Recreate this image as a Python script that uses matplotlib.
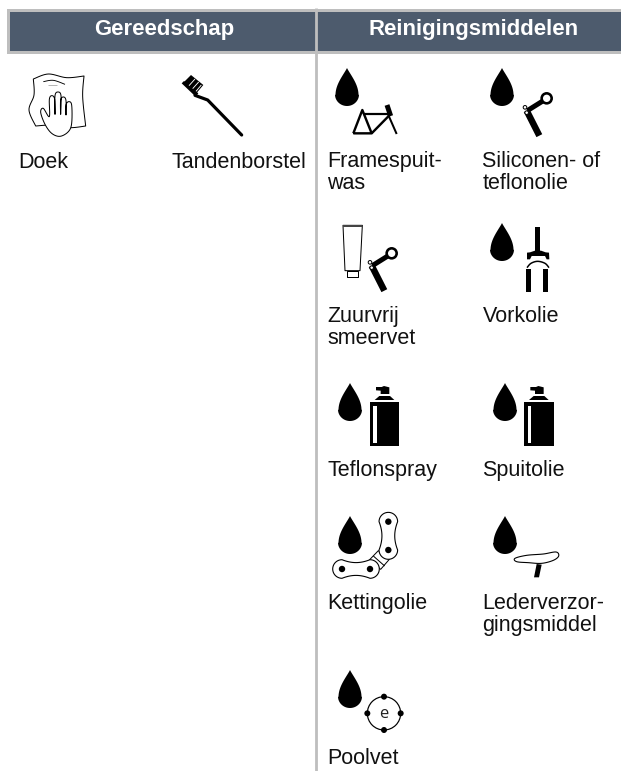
import numpy as np
import matplotlib
matplotlib.use("Agg")
import matplotlib.pyplot as plt
from matplotlib.patches import Polygon, Circle, Rectangle

headers = ["Gereedschap", "Reinigingsmiddelen"]
header_x = [164, 473.5]
labels = ["Doek", "Tandenborstel", "Framespuit-\nwas", "Siliconen- of\nteflonolie",
          "Zuurvrij\nsmeervet", "Vorkolie", "Teflonspray", "Spuitolie",
          "Kettingolie", "Lederverzor-\ngingsmiddel", "Poolvet"]
label_x = [18, 172, 327.5, 482.5, 327.5, 482.5, 327.5, 482.5, 327.5, 482.5, 327.5]
label_y = [168, 168, 167, 167, 322, 322, 476, 476, 609, 609, 764]

HEAD = "#4d5b6d"
RULE = "#bebebe"
plt.rcParams["font.family"] = ["Liberation Sans", "DejaVu Sans"]

fig = plt.figure(figsize=(6.21, 7.71), dpi=100)
ax = fig.add_axes([0, 0, 1, 1])
ax.set_xlim(0, 621)
ax.set_ylim(771, 0)
ax.axis("off")


def lw(px):
    return px * 0.72


def z(pts, ox=0, oy=0):
    a = np.asarray(pts, float)
    return np.column_stack([ox + a[:, 0] / 3, oy + a[:, 1] / 3])


def smooth(pts, closed=False, n=10):
    p = np.asarray(pts, float)
    if closed:
        p = np.vstack([p[-1], p, p[0], p[1]])
    else:
        p = np.vstack([p[0], p, p[-1]])
    out = []
    for i in range(1, len(p) - 2):
        p0, p1, p2, p3 = p[i - 1], p[i], p[i + 1], p[i + 2]
        for t in np.linspace(0, 1, n, endpoint=False):
            out.append(0.5 * (2 * p1 + (p2 - p0) * t + (2 * p0 - 5 * p1 + 4 * p2 - p3) * t ** 2
                              + (3 * p1 - p0 - 3 * p2 + p3) * t ** 3))
    out.append(p[-2])
    return np.array(out)


def poly(pts, fc="k", ec="none", w=0, closed=True, zo=3):
    ax.add_patch(Polygon(pts, closed=closed, fc=fc, ec=ec, lw=lw(w), zorder=zo, joinstyle="round"))


def line(pts, w, color="k", zo=3, cap="butt"):
    a = np.asarray(pts)
    ax.plot(a[:, 0], a[:, 1], color=color, lw=lw(w), zorder=zo, solid_capstyle=cap, solid_joinstyle="round")


def circ(x, y, r, fc="k", ec="none", w=0, zo=3):
    ax.add_patch(Circle((x, y), r, fc=fc, ec=ec, lw=lw(w), zorder=zo))


def drop(cx, tip):
    t = np.linspace(0, 1, 30)
    left = np.column_stack([cx - 11.5 * np.sin(t * np.pi / 2) ** 1.1, tip + 27 * t])
    a = np.linspace(np.pi, 0, 40)
    arc = np.column_stack([cx + 12 * np.cos(a), tip + 26.5 + 11.5 * np.sin(a)])
    right = np.column_stack([cx + 11.5 * np.sin(t[::-1] * np.pi / 2) ** 1.1, tip + 27 * t[::-1]])
    poly(np.vstack([left, arc, right]))


def stem(dx=0, dy=0):
    ox, oy = 310 + dx, dy
    line(z([(688, 407), (650, 332)], ox, oy), 6.5)
    line(z([(652, 332), (708, 297)], ox, oy), 5)
    circ(ox + 710 / 3, oy + 295 / 3, 5, fc="w", ec="k", w=2.6)
    circ(ox + 645 / 3, oy + 322 / 3, 1.8, fc="w", ec="k", w=1)
    circ(ox + 650 / 3, oy + 338 / 3, 1.8, fc="w", ec="k", w=1)


def spray(dx=0):
    ox, oy = 310 + dx, 200
    ax.add_patch(Rectangle((ox + 180 / 3, oy + 605 / 3), 88 / 3, 132 / 3, fc="k", ec="none", zorder=3))
    ax.add_patch(Rectangle((ox + 190 / 3, oy + 617 / 3), 11 / 3, 111 / 3, fc="w", ec="none", zorder=4))
    poly(z([(194, 600), (208, 588), (240, 588), (253, 600)], ox, oy))
    poly(z([(198, 561), (215, 561), (222, 558), (238, 562), (238, 582), (212, 582), (212, 572), (198, 571)], ox, oy))


def link(p, q, R=9.3, W=6.4):
    p, q = np.asarray(p, float), np.asarray(q, float)
    L = np.linalg.norm(q - p)
    u = (q - p) / L
    n = np.array([-u[1], u[0]])
    c = (8 * W - 2 * R) / 6
    t = np.linspace(0, 1, 20)[:, None]

    def side(sign):
        P0, P1 = p + sign * R * n, p + 0.35 * L * u + sign * c * n
        P2, P3 = p + 0.65 * L * u + sign * c * n, q + sign * R * n
        return (1 - t) ** 3 * P0 + 3 * (1 - t) ** 2 * t * P1 + 3 * (1 - t) * t ** 2 * P2 + t ** 3 * P3

    a1 = np.linspace(np.pi / 2, 3 * np.pi / 2, 24)[:, None]
    a2 = np.linspace(-np.pi / 2, np.pi / 2, 24)[:, None]
    cap1 = p + R * (np.cos(a1) * u + np.sin(a1) * n)
    cap2 = q + R * (np.cos(a2) * u + np.sin(a2) * n)
    poly(np.vstack([cap1, side(-1), cap2, side(1)[::-1]]), fc="w", ec="k", w=1.1, zo=4)
    circ(*p, 3.2, zo=5)
    circ(*q, 3.2, zo=5)


# table frame
ax.add_patch(Rectangle((7.5, 9.5), 640, 42, fc=HEAD, ec=RULE, lw=lw(3), zorder=1))
line([(316.3, 8), (316.3, 771)], 2.8, color=RULE, zo=2)
for h, x in zip(headers, header_x):
    ax.text(x, 34.5, h, color="w", fontsize=15.9, fontweight="bold", ha="center", va="baseline", zorder=5)
for s, x, y in zip(labels, label_x, label_y):
    for i, part in enumerate(s.split("\n")):
        ax.text(x, y + i * 22.3, part, color="#111111", fontsize=15.5, ha="left", va="baseline", zorder=5)

# cloth
ox, oy = 20, 65
cloth = np.vstack([
    smooth(z([(40, 42), (85, 27), (140, 38), (192, 33)], ox, oy)),
    smooth(z([(192, 33), (188, 95), (197, 183)], ox, oy)),
    smooth(z([(197, 183), (150, 188), (100, 180), (47, 183)], ox, oy)),
    smooth(z([(47, 183), (27, 135), (42, 90), (40, 42)], ox, oy)),
])
poly(cloth, fc="w", ec="k", w=1.0)
line(smooth(z([(70, 50), (100, 46), (135, 58)], ox, oy)), 0.9)
line(z([(85, 60), (112, 60)], ox, oy), 0.6, color="#888888")
# hand
hand = [(62, 142), (70, 130), (88, 155), (88, 103), (96, 92), (104, 103), (105, 148), (105, 92), (114, 81), (123, 92),
        (122, 148), (122, 105), (131, 96), (138, 107), (138, 150), (138, 120), (146, 110), (155, 120),
        (155, 175), (145, 200), (120, 214), (95, 205), (75, 178)]
poly(smooth(z(hand, ox, oy), closed=True, n=6), fc="w", ec="k", w=1.0, zo=4)

# toothbrush
ox, oy = 175, 70
line(z([(60, 76), (98, 90), (200, 195)], ox, oy), 3.2, cap="round")
poly(z([(20, 40), (27, 33), (70, 70), (62, 80)], ox, oy))
poly(z([(27, 36), (48, 15), (85, 45), (64, 70)], ox, oy))
for a, b in [((42, 47), (60, 27)), ((53, 56), (71, 36)), ((63, 64), (79, 45))]:
    line(z([a, b], ox, oy), 0.9, color="w", zo=4)

# drops
for cx, tip in [(347, 68), (502, 68), (502, 223), (350, 383), (505, 383), (350, 516), (505, 516), (350, 670)]:
    drop(cx, tip)

# bike
ox, oy = 325, 100
line(z([(85, 100), (112, 30), (140, 100), (85, 100)], ox, oy), 2.4)
line(z([(115, 42), (192, 42)], ox, oy), 2.2)
line(z([(140, 100), (195, 44)], ox, oy), 2.4)
line(z([(190, 45), (215, 102)], ox, oy), 2)
line(z([(186, 15), (197, 48)], ox, oy), 5)

stem()
stem(dx=-465 / 3, dy=155)

# tube
ox, oy = 310, 200
poly(z([(99, 76), (157, 76), (150, 212), (105, 212)], ox, oy), fc="w", ec="k", w=1)
poly(z([(99, 75), (157, 75), (157, 81), (99, 81)], ox, oy), fc="#444444")
poly(z([(112, 212), (143, 212), (143, 232), (112, 232)], ox, oy), fc="w", ec="k", w=1)

# fork
fx, fy = 515, 220
ax.add_patch(Rectangle((fx + 60 / 3, fy + 20 / 3), 15 / 3, 75 / 3, fc="k", ec="none", zorder=3))
poly(z([(36, 98), (45, 97), (60, 92), (78, 92), (92, 97), (102, 98), (103, 118), (95, 118), (90, 108), (50, 108),
        (45, 118), (36, 118)], fx, fy))
line(smooth(z([(36, 143), (48, 130), (68, 124), (90, 130), (102, 143)], fx, fy)), 1.5)
for x0 in (33, 85):
    ax.add_patch(Rectangle((fx + x0 / 3, fy + 146 / 3), 15 / 3, 69 / 3, fc="k", ec="none", zorder=3))

spray()
spray(dx=463 / 3)

# chain
ox, oy = 310, 480
poly(z([(178, 240), (205, 212), (238, 238), (212, 268)], ox, oy), fc="w", ec="k", w=1)
line(z([(190, 228), (224, 258)], ox, oy), 1)
link(z([(235, 125)], ox, oy)[0], z([(235, 210)], ox, oy)[0])
link(z([(96, 267)], ox, oy)[0], z([(180, 267)], ox, oy)[0])

# saddle
poly(z([(680, 252), (695, 254), (687, 292), (672, 292)], ox, oy))
poly(smooth(z([(615, 235), (650, 226), (700, 222), (738, 216), (746, 228), (730, 241), (695, 250), (655, 248),
               (620, 245)], ox, oy), closed=True), fc="w", ec="k", w=1.1, zo=4)

# pole
cx, cy = ox + 222 / 3, oy + 700 / 3
circ(cx, cy, 50 / 3, fc="w", ec="k", w=1.2)
for dx, dy in [(0, -50), (0, 50), (-50, 0), (50, 0)]:
    circ(cx + dx / 3, cy + dy / 3, 3, zo=4)
ax.text(cx, cy + 5, "e", fontsize=12, family="Open Sans", ha="center", va="baseline", color="#222222", zorder=5)

fig.savefig("out.png", dpi=100, facecolor="w")
